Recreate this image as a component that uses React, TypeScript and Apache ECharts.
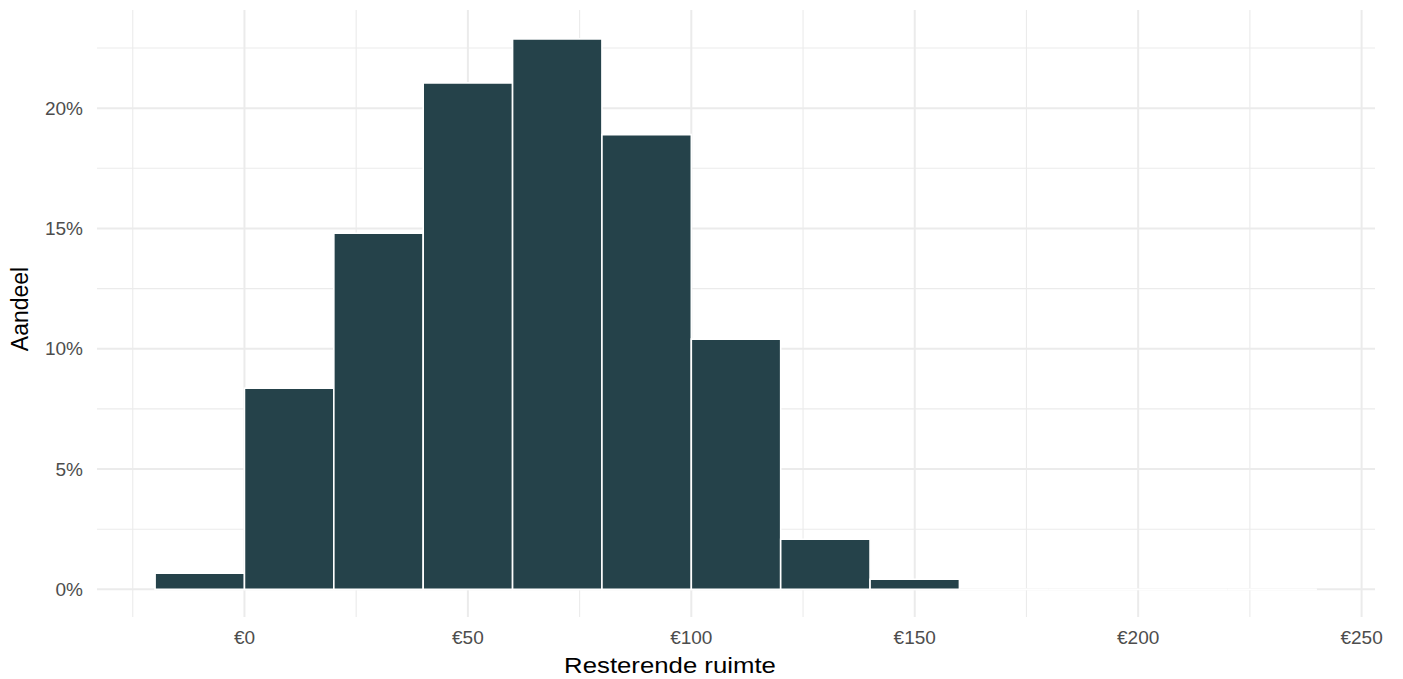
import React, { useEffect, useRef } from "react";
import * as echarts from "echarts";

// Histogram bins (euro) and share (%)
const binStart = [-20, 0, 20, 40, 60, 80, 100, 120, 140, 160, 180, 200, 220];
const binEnd = [0, 20, 40, 60, 80, 100, 120, 140, 160, 180, 200, 220, 240];
const shares = [0.67, 8.36, 14.8, 21.05, 22.88, 18.9, 10.4, 2.08, 0.42, 0, 0, 0, 0];

// Tick and gridline values
const xTicks = [0, 50, 100, 150, 200, 250];
const xMinor = [-25, 25, 75, 125, 175, 225];
const yTicks = [0, 5, 10, 15, 20];
const yMinor = [2.5, 7.5, 12.5, 17.5, 22.5];

const xTitle = "Resterende ruimte";
const yTitle = "Aandeel";

const BAR_COLOR = "#25424a";
const GRID_COLOR = "#ebebeb";
const FONT = "'Liberation Sans', Arial, Helvetica, sans-serif";

export default function App() {
  const ref = useRef<HTMLDivElement>(null);

  useEffect(() => {
    if (!ref.current) return;
    const chart = echarts.init(ref.current, undefined, { renderer: "svg" });

    const barData = binStart.map((s, i) => [s, binEnd[i], shares[i]]);
    const gridData = [
      ...xTicks.map((v) => [v, 0, 1]),
      ...xMinor.map((v) => [v, 0, 0]),
      ...yTicks.map((v) => [v, 1, 1]),
      ...yMinor.map((v) => [v, 1, 0]),
    ];

    chart.setOption({
      animation: false,
      backgroundColor: "#ffffff",
      grid: { left: 97, right: 28, top: 10, bottom: 62, containLabel: false },
      xAxis: {
        type: "value",
        min: -33,
        max: 253,
        axisLine: { show: false },
        axisTick: { show: false },
        splitLine: { show: false },
        axisLabel: {
          customValues: xTicks,
          formatter: (v: number) => "€" + v,
          color: "#4d4d4d",
          fontSize: 19,
          fontFamily: FONT,
          margin: 11,
        },
      },
      yAxis: {
        type: "value",
        min: -1.15,
        max: 24.08,
        axisLine: { show: false },
        axisTick: { show: false },
        splitLine: { show: false },
        axisLabel: {
          customValues: yTicks,
          formatter: (v: number) => v + "%",
          color: "#4d4d4d",
          fontSize: 19,
          fontFamily: FONT,
          margin: 14,
        },
      },
      series: [
        {
          type: "custom",
          silent: true,
          clip: false,
          z: 1,
          data: gridData,
          encode: { x: 0 },
          renderItem: (params: any, api: any) => {
            const cs = params.coordSys;
            const v = api.value(0);
            const horiz = api.value(1) === 1;
            const major = api.value(2) === 1;
            const lw = major ? 2 : 1.1;
            if (!horiz) {
              const x = api.coord([v, 0])[0];
              return {
                type: "line",
                shape: { x1: x, y1: cs.y, x2: x, y2: cs.y + cs.height },
                style: { stroke: GRID_COLOR, lineWidth: lw },
              };
            }
            const y = api.coord([0, v])[1];
            return {
              type: "line",
              shape: { x1: cs.x, y1: y, x2: cs.x + cs.width, y2: y },
              style: { stroke: GRID_COLOR, lineWidth: lw },
            };
          },
        },
        {
          type: "custom",
          z: 2,
          clip: false,
          data: barData,
          encode: { x: [0, 1], y: 2 },
          renderItem: (params: any, api: any) => {
            const x0 = api.value(0);
            const x1 = api.value(1);
            const y = api.value(2);
            const p0 = api.coord([x0, y]);
            const p1 = api.coord([x1, 0]);
            return {
              type: "rect",
              shape: {
                x: p0[0],
                y: p0[1],
                width: p1[0] - p0[0],
                height: p1[1] - p0[1],
              },
              style: {
                fill: y > 0 ? BAR_COLOR : "none",
                stroke: "#ffffff",
                lineWidth: 1.6,
              },
            };
          },
        },
      ],
      graphic: [
        {
          type: "text",
          x: 670,
          y: 665,
          scaleX: 1.12,
          originX: 0,
          originY: 0,
          style: {
            text: xTitle,
            fill: "#000000",
            font: `23px ${FONT}`,
            align: "center",
            verticalAlign: "middle",
          },
        },
        {
          type: "text",
          x: 20,
          y: 309,
          rotation: Math.PI / 2,
          style: {
            text: yTitle,
            fill: "#000000",
            font: `23px ${FONT}`,
            align: "center",
            verticalAlign: "middle",
          },
        },
      ],
    });

    return () => chart.dispose();
  }, []);

  return (
    <div
      ref={ref}
      style={{ position: "fixed", left: 0, top: 0, width: 1403, height: 679 }}
    />
  );
}
